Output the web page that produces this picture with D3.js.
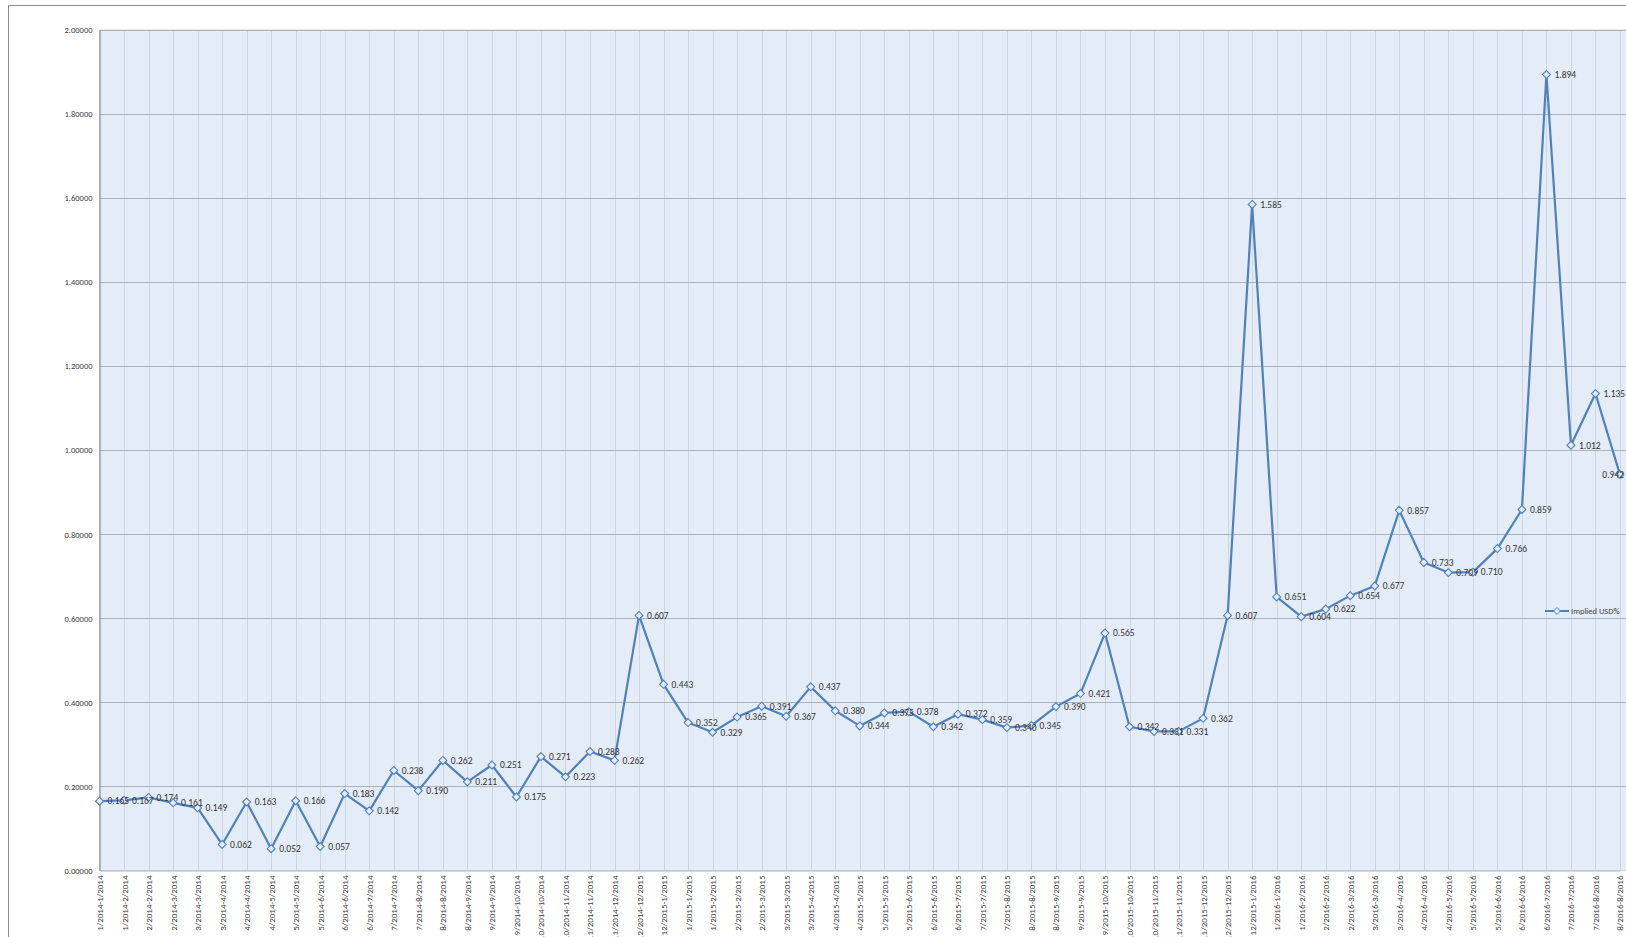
<!DOCTYPE html>
<html>
<head>
<meta charset="utf-8">
<script src="https://cdn.jsdelivr.net/npm/d3@7"></script>
<style>
  body { margin: 0; background: #fff; overflow: hidden; }
  svg { display: block; }
</style>
</head>
<body>
<div id="chart"></div>
<script>
const periods = [
  "1/2014-1/2014", "1/2014-2/2014", "2/2014-2/2014", "2/2014-3/2014", "3/2014-3/2014",
  "3/2014-4/2014", "4/2014-4/2014", "4/2014-5/2014", "5/2014-5/2014", "5/2014-6/2014",
  "6/2014-6/2014", "6/2014-7/2014", "7/2014-7/2014", "7/2014-8/2014", "8/2014-8/2014",
  "8/2014-9/2014", "9/2014-9/2014", "9/2014-10/2014", "10/2014-10/2014", "10/2014-11/2014",
  "11/2014-11/2014", "11/2014-12/2014", "12/2014-12/2015", "12/2015-1/2015", "1/2015-1/2015",
  "1/2015-2/2015", "2/2015-2/2015", "2/2015-3/2015", "3/2015-3/2015", "3/2015-4/2015",
  "4/2015-4/2015", "4/2015-5/2015", "5/2015-5/2015", "5/2015-6/2015", "6/2015-6/2015",
  "6/2015-7/2015", "7/2015-7/2015", "7/2015-8/2015", "8/2015-8/2015", "8/2015-9/2015",
  "9/2015-9/2015", "9/2015-10/2015", "10/2015-10/2015", "10/2015-11/2015", "11/2015-11/2015",
  "11/2015-12/2015", "12/2015-12/2015", "12/2015-1/2016", "1/2016-1/2016", "1/2016-2/2016",
  "2/2016-2/2016", "2/2016-3/2016", "3/2016-3/2016", "3/2016-4/2016", "4/2016-4/2016",
  "4/2016-5/2016", "5/2016-5/2016", "5/2016-6/2016", "6/2016-6/2016", "6/2016-7/2016",
  "7/2016-7/2016", "7/2016-8/2016", "8/2016-8/2016"
];

const impliedUSD = [
  0.165, 0.167, 0.174, 0.161, 0.149, 0.062, 0.163, 0.052, 0.166, 0.057,
  0.183, 0.142, 0.238, 0.190, 0.262, 0.211, 0.251, 0.175, 0.271, 0.223,
  0.283, 0.262, 0.607, 0.443, 0.352, 0.329, 0.365, 0.391, 0.367, 0.437,
  0.380, 0.344, 0.375, 0.378, 0.342, 0.372, 0.359, 0.340, 0.345, 0.390,
  0.421, 0.565, 0.342, 0.331, 0.331, 0.362, 0.607, 1.585, 0.651, 0.604,
  0.622, 0.654, 0.677, 0.857, 0.733, 0.709, 0.710, 0.766, 0.859, 1.894,
  1.012, 1.135, 0.942
];

const yTicks = [0, 0.2, 0.4, 0.6, 0.8, 1.0, 1.2, 1.4, 1.6, 1.8, 2.0];
const seriesName = "Implied USD%";

let width = 1626;
let height = 937;
let plotLeft = 99.5, plotTop = 30, plotBottom = 870.5;
let lastX = 1620;
let blue = "#4f81bd";
let font = "Calibri, Carlito, 'Liberation Sans', 'DejaVu Sans', sans-serif";

let svg = d3.select("#chart")
  .append("svg")
  .attr("width", width)
  .attr("height", height);

// outer chart frame (runs off the page on the right and bottom)
svg.append("rect")
  .attr("x", 8.5).attr("y", 5.5)
  .attr("width", width + 20).attr("height", height + 20)
  .attr("fill", "#fff")
  .attr("stroke", "#8c8c8c");

let x = d3.scalePoint()
  .domain(periods)
  .range([plotLeft, lastX]);

let y = d3.scaleLinear()
  .domain([0, 2])
  .range([plotBottom, plotTop]);

// plot area
svg.append("rect")
  .attr("x", plotLeft).attr("y", plotTop)
  .attr("width", width - plotLeft + 10).attr("height", plotBottom - plotTop)
  .attr("fill", "#e4ecf7")
  .attr("stroke", "#c9d3e0");

// vertical gridlines
svg.append("g")
  .selectAll("line")
  .data(periods)
  .enter()
  .append("line")
  .attr("x1", d => Math.round(x(d)) + 0.5)
  .attr("x2", d => Math.round(x(d)) + 0.5)
  .attr("y1", plotTop).attr("y2", plotBottom)
  .attr("stroke", "#cdd6e3")
  .attr("stroke-width", 1);

// horizontal gridlines
svg.append("g")
  .selectAll("line")
  .data(yTicks.slice(1))
  .enter()
  .append("line")
  .attr("x1", plotLeft).attr("x2", width)
  .attr("y1", d => Math.round(y(d)) + 0.5)
  .attr("y2", d => Math.round(y(d)) + 0.5)
  .attr("stroke", "#a9b1bc")
  .attr("stroke-width", 1);

// axes
let yAxis = d3.axisLeft(y)
  .tickValues(yTicks)
  .tickSize(0)
  .tickPadding(7)
  .tickFormat(d3.format(".5f"));

let gy = svg.append("g")
  .attr("transform", "translate(" + plotLeft + ",0)")
  .call(yAxis);
gy.select(".domain").attr("stroke", "#8c8c8c");
gy.selectAll("text")
  .attr("font-family", font)
  .attr("font-size", "8.5px")
  .attr("fill", "#404040");

let xAxis = d3.axisBottom(x).tickSize(0).tickPadding(0);
let gx = svg.append("g")
  .attr("transform", "translate(0," + plotBottom + ")")
  .call(xAxis);
gx.select(".domain").attr("stroke", "#a9b8cc");
gx.selectAll("text")
  .attr("font-family", font)
  .attr("font-size", "9px")
  .attr("fill", "#404040")
  .attr("text-anchor", "end")
  .attr("transform", "translate(0,5) rotate(-90)")
  .attr("x", 0)
  .attr("y", 0)
  .attr("dy", "0.33em");

// series line
let line = d3.line()
  .x((d, i) => x(periods[i]))
  .y(d => y(d));

svg.append("path")
  .datum(impliedUSD)
  .attr("d", line)
  .attr("fill", "none")
  .attr("stroke", blue)
  .attr("stroke-width", 2.2)
  .attr("stroke-linejoin", "round");

let diamond = d3.symbol().type(d3.symbolDiamond2).size(40);

svg.append("g")
  .selectAll("path")
  .data(impliedUSD)
  .enter()
  .append("path")
  .attr("d", diamond)
  .attr("transform", (d, i) => "translate(" + x(periods[i]) + "," + y(d) + ")")
  .attr("fill", "#e4ecf7")
  .attr("stroke", blue)
  .attr("stroke-width", 1.1);

// data labels (the last one sits inside the plot, left of its point)
let n = impliedUSD.length;
svg.append("g")
  .selectAll("text")
  .data(impliedUSD)
  .enter()
  .append("text")
  .attr("x", (d, i) => i === n - 1 ? x(periods[i]) + 4 : x(periods[i]) + 8)
  .attr("y", d => y(d))
  .attr("dy", "0.35em")
  .attr("text-anchor", (d, i) => i === n - 1 ? "end" : "start")
  .attr("font-family", font)
  .attr("font-size", "9.5px")
  .attr("fill", "#333")
  .text(d => d.toFixed(3));

// legend
let lg = svg.append("g").attr("transform", "translate(1545,611)");
lg.append("line")
  .attr("x1", 0).attr("x2", 24)
  .attr("y1", 0).attr("y2", 0)
  .attr("stroke", blue).attr("stroke-width", 2);
lg.append("path")
  .attr("d", d3.symbol().type(d3.symbolDiamond2).size(30))
  .attr("transform", "translate(12,0)")
  .attr("fill", "#e4ecf7")
  .attr("stroke", blue);
lg.append("text")
  .attr("x", 26).attr("y", 0).attr("dy", "0.35em")
  .attr("font-family", font)
  .attr("font-size", "8.5px")
  .attr("fill", "#404040")
  .text(seriesName);
</script>
</body>
</html>
